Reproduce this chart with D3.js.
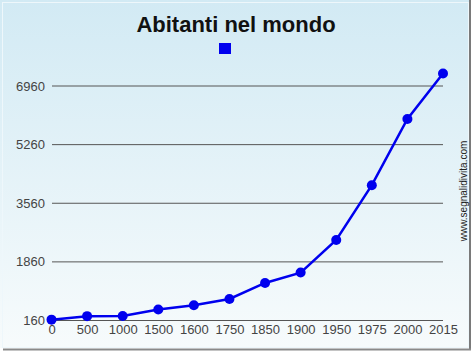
<!DOCTYPE html>
<html>
<head>
<meta charset="utf-8">
<script src="https://cdn.jsdelivr.net/npm/d3@7"></script>
<style>
  body { margin: 0; background: #fff; }
  svg text { font-family: "Liberation Sans", Arial, sans-serif; }
</style>
</head>
<body>
<div class="canvas"></div>
<script>
// data
const years = ['0','500','1000','1500','1600','1750','1850','1900','1950','1975','2000','2015'];
const population = [170, 272, 275, 465, 590, 770, 1235, 1535, 2480, 4070, 5990, 7310];
const yTicks = [160, 1860, 3560, 5260, 6960];

const W = 474, H = 353;

const svg = d3.select('.canvas')
    .append('svg')
    .attr('width', W)
    .attr('height', H);

// background gradient
const grad = svg.append('defs').append('linearGradient')
    .attr('id', 'bg')
    .attr('x1', 0).attr('y1', 0).attr('x2', 0).attr('y2', 1);
grad.append('stop').attr('offset', '0%').attr('stop-color', '#d2eaf4');
grad.append('stop').attr('offset', '100%').attr('stop-color', '#f7fbfc');

svg.append('rect')
    .attr('x', 0).attr('y', 0)
    .attr('width', 469).attr('height', 348)
    .attr('fill', 'url(#bg)');

// frame: light inner edge, dark right edge and bottom shadow
svg.append('rect')
    .attr('x', 2.5).attr('y', 2.5)
    .attr('width', 466).attr('height', 345)
    .attr('fill', 'none')
    .attr('stroke', '#eef7fb')
    .attr('stroke-width', 1);
svg.append('line')
    .attr('x1', 470).attr('x2', 470).attr('y1', 0).attr('y2', 350)
    .attr('stroke', '#7a7a7a').attr('stroke-width', 2);
svg.append('line')
    .attr('x1', 3).attr('x2', 471).attr('y1', 349.5).attr('y2', 349.5)
    .attr('stroke', '#8a8a8a').attr('stroke-width', 2);

// scales
const x = d3.scalePoint()
    .domain(years)
    .range([51.5, 443]);

const y = d3.scaleLinear()
    .domain([160, 6960])
    .range([320, 85.5]);

// y axis with gridlines
const yAxis = d3.axisLeft(y)
    .tickValues(yTicks)
    .tickSize(-(443 - 52))
    .tickPadding(8)
    .tickFormat(d => d);

const yAxisGroup = svg.append('g')
    .attr('transform', 'translate(52, 0)')
    .call(yAxis);
yAxisGroup.select('.domain').remove();
yAxisGroup.selectAll('line')
    .attr('stroke', '#555')
    .attr('stroke-width', 1);
yAxisGroup.selectAll('text')
    .attr('x', -7)
    .attr('dy', '0.35em')
    .attr('fill', '#444')
    .attr('font-size', 13);

// x axis
const xAxis = d3.axisBottom(x).tickSize(0).tickPadding(5);
const xAxisGroup = svg.append('g')
    .attr('transform', 'translate(0, 320)')
    .call(xAxis);
xAxisGroup.select('.domain').remove();
xAxisGroup.selectAll('text')
    .attr('fill', '#444')
    .attr('font-size', 13);

// line + markers
const line = d3.line()
    .x((d, i) => x(years[i]))
    .y(d => y(d));

svg.append('path')
    .datum(population)
    .attr('d', line)
    .attr('fill', 'none')
    .attr('stroke', '#0000ee')
    .attr('stroke-width', 2.5);

svg.selectAll('circle')
    .data(population)
    .enter()
    .append('circle')
    .attr('cx', (d, i) => x(years[i]))
    .attr('cy', d => y(d))
    .attr('r', 5)
    .attr('fill', '#0000ee');

// title + legend marker
svg.append('text')
    .attr('x', 236)
    .attr('y', 32)
    .attr('text-anchor', 'middle')
    .attr('font-size', 22)
    .attr('font-weight', 'bold')
    .attr('fill', '#111')
    .text('Abitanti nel mondo');

svg.append('rect')
    .attr('x', 219).attr('y', 43)
    .attr('width', 12).attr('height', 11)
    .attr('fill', '#0000ee');

// watermark
svg.append('text')
    .attr('transform', 'translate(467, 191) rotate(-90)')
    .attr('text-anchor', 'middle')
    .attr('font-size', 10)
    .attr('fill', '#222')
    .text('www.segnalidivita.com');
</script>
</body>
</html>
